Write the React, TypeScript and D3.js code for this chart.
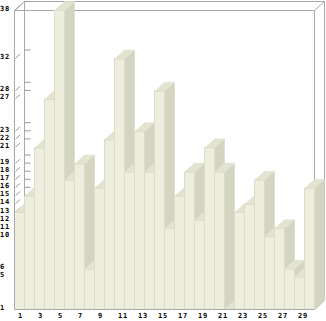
import React from "react";
import * as d3 from "d3";

const categories = Array.from({ length: 30 }, (_, i) => String(i + 1));
const values = [13, 15, 21, 27, 38, 17, 19, 6, 16, 22, 32, 18, 23, 18, 28, 11, 15, 18, 12, 21, 18, 1, 13, 14, 17, 10, 11, 6, 5, 16];
const yTicks = [1, 5, 6, 10, 11, 12, 13, 14, 15, 16, 17, 18, 19, 21, 22, 23, 27, 28, 32, 38];
const xLabels = ["1", "3", "5", "7", "9", "11", "13", "15", "17", "19", "21", "23", "25", "27", "29"];

const W = 326;
const H = 321;
const DX = 10;
const DY = -9;
const L = 14.5, R = 314.5, T = 10.5, B = 309.5;

const FRONT = "#eeeedf";
const SIDE = "#d4d4c3";
const TOP = "#e3e3d2";
const EDGE = "#dcdcc9";
const FRAME = "#a8a8a8";
const FONT = "'DejaVu Sans Mono', monospace";

export default function App() {
  const x = d3.scaleBand<string>().domain(categories).range([L, R]).padding(0);
  const y = d3.scaleLinear().domain([1, 38]).range([B, T]);
  const bw = x.bandwidth();
  const pts = (p: number[][]) => p.map((q) => q.join(",")).join(" ");

  return (
    <svg width={W} height={H} style={{ position: "absolute", left: 0, top: 0, background: "#fff" }}>
      <g stroke={FRAME} strokeWidth={1} fill="none">
        <line x1={L + DX} y1={T + DY} x2={R + DX} y2={T + DY} />
        <line x1={L + DX} y1={T + DY} x2={L + DX} y2={B + DY} />
        <line x1={R + DX} y1={T + DY} x2={R + DX} y2={B + DY} />
        <line x1={L} y1={T} x2={L + DX} y2={T + DY} />
        <line x1={R} y1={T} x2={R + DX} y2={T + DY} />
        <line x1={R} y1={B} x2={R + DX} y2={B + DY} />
        <line x1={L} y1={T} x2={R} y2={T} />
        <line x1={R} y1={T} x2={R} y2={B} />
      </g>
      <g stroke="#999" strokeWidth={1}>
        {yTicks.map((t) => {
          const yf = y(t);
          return (
            <g key={t}>
              <line x1={L + 1} y1={yf - 0.8} x2={L + 5.5} y2={yf - 4.8} />
              <line x1={L + DX} y1={yf + DY} x2={L + DX + 6} y2={yf + DY} />
            </g>
          );
        })}
      </g>
      <g>
        {categories.map((c, i) => {
          const v = values[i];
          const x0 = x(c) as number;
          const x1 = x0 + bw;
          const yt = y(v);
          return (
            <g key={c}>
              <polygon points={pts([[x1, yt], [x1 + DX, yt + DY], [x1 + DX, B + DY], [x1, B]])} fill={SIDE} stroke={SIDE} strokeWidth={0.5} />
              <polygon points={pts([[x0, yt], [x1, yt], [x1 + DX, yt + DY], [x0 + DX, yt + DY]])} fill={TOP} stroke={TOP} strokeWidth={0.5} />
              {v > 1 && <rect x={x0} y={yt} width={bw} height={B - yt} fill={FRONT} stroke={EDGE} strokeWidth={1} />}
            </g>
          );
        })}
      </g>
      <g stroke={FRAME} strokeWidth={1}>
        <line x1={L} y1={T} x2={L} y2={B} />
        <line x1={L} y1={B} x2={R} y2={B} />
      </g>
      <g fontFamily={FONT} fontSize={7} fontWeight="bold" fill="#000" letterSpacing={0.8}>
        {yTicks.map((t) => (
          <text key={t} x={0} y={y(t)}>{t}</text>
        ))}
        {xLabels.map((l) => (
          <text key={l} x={(x(l) as number) + 3.5} y={318}>{l}</text>
        ))}
      </g>
    </svg>
  );
}
